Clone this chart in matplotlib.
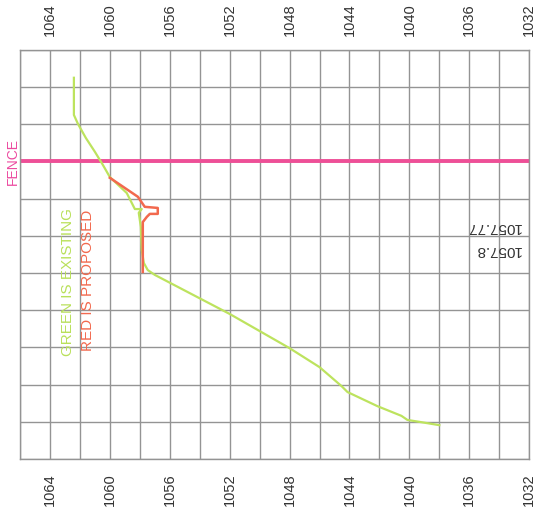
import matplotlib
matplotlib.use("Agg")
import matplotlib.pyplot as plt
from matplotlib.ticker import MultipleLocator

plt.rcParams["font.family"] = ["Liberation Sans", "DejaVu Sans"]

# elevation (x) vs. distance down the profile (y)
existing_elev = [1062.4, 1062.4, 1062.13, 1061.6, 1061.0, 1060.47, 1060.0, 1058.87,
                 1058.33, 1057.87, 1058.07, 1057.93, 1057.87, 1057.73, 1057.47, 1057.0,
                 1052.0, 1048.0, 1046.0, 1044.53, 1044.13, 1042.13, 1040.53, 1040.13,
                 1039.2, 1038.0]
existing_dist = [7.5, 17.5, 19.9, 23.7, 27.4, 30.9, 34.2, 38.5,
                 42.8, 42.8, 43.8, 47.6, 53.8, 57.3, 59.2, 60.5,
                 71.0, 80.2, 85.3, 90.4, 92.0, 95.8, 98.4, 99.5,
                 100.1, 100.9]

proposed_elev = [1060.0, 1058.13, 1057.67, 1056.8, 1056.8, 1057.33, 1057.53, 1057.8, 1057.8]
proposed_dist = [34.4, 39.5, 42.2, 42.5, 44.1, 44.1, 44.9, 46.3, 59.7]

fence_dist = 30
notes = ["1057.77", "1057.8"]
note_dist = [47.6, 53.8]

GRID = "#949494"

fig = plt.figure(figsize=(5.4, 5.14), dpi=100)
ax = fig.add_axes([0.037, 0.107, 0.943, 0.796])

ax.set_xlim(1066, 1032)
ax.set_ylim(110, 0)
ax.xaxis.set_major_locator(MultipleLocator(4))
ax.xaxis.set_minor_locator(MultipleLocator(2))
ax.yaxis.set_major_locator(MultipleLocator(10))
ax.grid(True, which="both", axis="x", color=GRID, lw=1.0)
ax.grid(True, which="major", axis="y", color=GRID, lw=1.0)
ax.set_axisbelow(True)
for s in ax.spines.values():
    s.set_color(GRID)
    s.set_linewidth(1.0)

ax.tick_params(axis="x", which="both", length=0, top=False, bottom=False,
               labeltop=True, labelbottom=True, labelrotation=90,
               labelsize=10.5, labelcolor="#333333")
ax.tick_params(axis="x", which="major", pad=10)
ax.tick_params(axis="y", which="both", length=0, labelleft=False)

ax.axhline(fence_dist, color="#ee4f97", lw=2.8)
ax.plot(existing_elev, existing_dist, color="#bde35e", lw=1.6)
ax.plot(proposed_elev, proposed_dist, color="#f2694e", lw=1.8)

ax.text(1066.47, fence_dist, "FENCE", rotation=90, color="#ec4aa0", fontsize=10,
        ha="center", va="center", clip_on=False)
ax.text(1062.8, 62.4, "GREEN IS EXISTING", rotation=90, color="#b9e05a",
        fontsize=11, ha="center", va="center")
ax.text(1061.45, 62.0, "RED IS PROPOSED", rotation=90, color="#f2694e",
        fontsize=11, ha="center", va="center")
for txt, d in zip(notes, note_dist):
    ax.text(1032.55, d, txt, rotation=180, color="#333333", fontsize=11,
            ha="right", va="center")

fig.savefig("out.png", dpi=100)
